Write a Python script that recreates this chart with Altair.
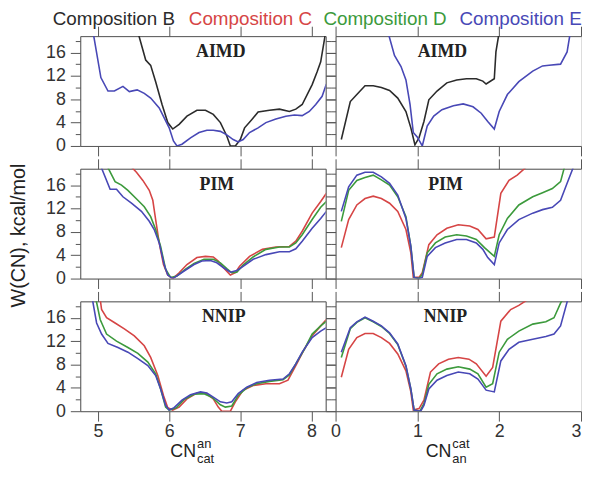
import altair as alt
import pandas as pd

NAMES = ["Composition B", "Composition C", "Composition D", "Composition E"]
COLORS = ["#2b2b2b", "#d64545", "#3c9a3c", "#4848b6"]

# ---------------- AIMD, left (CN_cat^an) ----------------
aimd_L_B_x = [5.56, 5.67, 5.74, 5.81, 5.90, 5.98, 6.05, 6.14, 6.25, 6.39, 6.51, 6.62, 6.72, 6.81, 6.86,
              6.93, 7.00, 7.06, 7.16, 7.25, 7.41, 7.55, 7.69, 7.78, 7.87, 8.01, 8.08, 8.13, 8.20]
aimd_L_B_y = [19.5, 14.7, 13.8, 11.0, 7.1, 4.0, 2.9, 3.7, 5.1, 6.1, 6.1, 5.4, 4.0, 1.7, 0.0,
              0.0, 1.1, 3.1, 4.5, 5.8, 6.1, 6.3, 5.9, 6.3, 7.1, 10.5, 12.7, 14.4, 19.5]
aimd_L_E_x = [4.93, 5.04, 5.14, 5.23, 5.35, 5.44, 5.55, 5.65, 5.74, 5.86, 5.93, 6.00, 6.06, 6.11, 6.18,
              6.30, 6.42, 6.53, 6.62, 6.72, 6.81, 6.90, 6.97, 7.04, 7.13, 7.25, 7.36, 7.50, 7.64, 7.76,
              7.87, 7.97, 8.06, 8.15, 8.21]
aimd_L_E_y = [19.5, 11.7, 9.4, 9.4, 10.2, 9.3, 9.6, 9.0, 8.2, 6.5, 4.8, 3.1, 0.85, 0.0, 0.3,
              1.4, 2.3, 2.7, 2.7, 2.5, 1.9, 1.1, 0.7, 1.1, 2.3, 3.1, 4.0, 4.6, 5.1, 5.3,
              5.2, 5.9, 7.1, 8.5, 10.6]

# ---------------- AIMD, right (CN_an^cat) ----------------
aimd_R_B_x = [0.07, 0.18, 0.26, 0.36, 0.46, 0.56, 0.66, 0.76, 0.86, 0.92, 0.97, 1.02, 1.08, 1.14, 1.24,
              1.36, 1.48, 1.60, 1.72, 1.80, 1.84, 1.94, 1.96, 2.00]
aimd_R_B_y = [1.1, 7.6, 8.8, 10.3, 10.3, 10.0, 9.5, 8.2, 5.9, 3.1, 0.2, 1.4, 4.2, 7.9, 9.4,
              10.8, 11.3, 11.5, 11.5, 11.1, 10.6, 11.5, 16.1, 19.5]
aimd_R_E_x = [0.64, 0.72, 0.80, 0.86, 0.91, 0.95, 1.00, 1.06, 1.12, 1.20, 1.30, 1.44, 1.56, 1.68, 1.78,
              1.86, 1.94, 2.00, 2.10, 2.24, 2.41, 2.53, 2.61, 2.75, 2.83, 2.87]
aimd_R_E_y = [19.5, 15.5, 13.6, 11.3, 7.1, 2.3, 1.5, 0.0, 3.4, 5.1, 6.2, 6.9, 7.2, 6.7, 5.6,
              4.2, 2.9, 5.9, 8.8, 11.0, 12.8, 13.7, 13.8, 14.0, 16.1, 19.5]

# ---------------- PIM, left ----------------
pim_L_C_x = [5.46, 5.54, 5.63, 5.72, 5.77, 5.81, 5.86, 5.92, 5.98, 6.05, 6.14, 6.25, 6.39, 6.51, 6.62,
             6.69, 6.76, 6.86, 6.93, 6.99, 7.13, 7.31, 7.50, 7.69, 7.78, 7.87, 8.01, 8.13, 8.21]
pim_L_C_y = [19.2, 18.2, 16.8, 15.1, 13.4, 10.1, 6.1, 2.4, 0.6, 0.0, 1.0, 2.4, 3.6, 3.8, 3.7,
             3.0, 1.9, 0.6, 1.0, 2.1, 3.8, 5.0, 5.4, 5.5, 6.4, 8.1, 11.2, 13.2, 14.6]
pim_L_D_x = [5.13, 5.24, 5.33, 5.42, 5.56, 5.65, 5.74, 5.81, 5.88, 5.95, 6.02, 6.11, 6.23, 6.35, 6.49,
             6.62, 6.72, 6.81, 6.88, 6.95, 7.04, 7.18, 7.36, 7.55, 7.69, 7.78, 7.87, 8.01, 8.13, 8.21]
pim_L_D_y = [19.2, 16.6, 16.0, 15.1, 13.4, 12.3, 10.6, 8.4, 5.5, 1.6, 0.2, 0.45, 1.6, 2.6, 3.3,
             3.3, 2.7, 1.7, 1.0, 1.1, 2.3, 3.7, 5.0, 5.4, 5.4, 6.1, 7.5, 10.1, 12.2, 13.2]
pim_L_E_x = [5.04, 5.17, 5.26, 5.35, 5.47, 5.61, 5.72, 5.79, 5.86, 5.93, 5.98, 6.05, 6.11, 6.21, 6.35,
             6.46, 6.58, 6.67, 6.76, 6.86, 6.95, 7.04, 7.18, 7.36, 7.55, 7.69, 7.78, 7.87, 8.01, 8.13,
             8.21]
pim_L_E_y = [19.2, 15.3, 15.3, 14.0, 12.9, 11.5, 9.8, 8.4, 6.1, 2.4, 0.6, 0.0, 0.45, 1.3, 2.4,
             3.0, 3.1, 2.7, 1.9, 1.1, 1.4, 2.1, 3.3, 4.1, 4.6, 4.6, 5.1, 6.4, 8.6, 10.3,
             11.5]

# ---------------- PIM, right ----------------
pim_R_C_x = [0.07, 0.16, 0.26, 0.36, 0.46, 0.56, 0.66, 0.76, 0.86, 0.92, 0.95, 1.02, 1.06, 1.14, 1.24,
             1.36, 1.50, 1.64, 1.74, 1.84, 1.94, 2.02, 2.12, 2.22, 2.34]
pim_R_C_y = [5.3, 10.1, 12.6, 13.7, 14.1, 13.7, 12.9, 11.5, 8.4, 4.4, 0.2, 0.2, 1.0, 5.8, 7.5,
             8.6, 9.2, 9.0, 8.4, 6.8, 7.1, 14.6, 16.8, 17.7, 19.2]
pim_R_D_x = [0.07, 0.16, 0.26, 0.36, 0.46, 0.56, 0.66, 0.76, 0.86, 0.92, 0.96, 1.02, 1.06, 1.12, 1.22,
             1.34, 1.48, 1.60, 1.72, 1.82, 1.94, 2.00, 2.10, 2.24, 2.41, 2.53, 2.65, 2.75, 2.80]
pim_R_D_y = [9.8, 15.1, 16.8, 17.3, 17.7, 16.9, 16.0, 14.0, 10.6, 5.5, 0.2, 0.0, 0.7, 4.4, 6.1,
             7.1, 7.5, 7.3, 6.7, 5.3, 3.8, 7.5, 10.3, 12.6, 14.0, 14.7, 15.4, 16.6, 19.2]
pim_R_E_x = [0.07, 0.16, 0.26, 0.36, 0.46, 0.56, 0.66, 0.76, 0.86, 0.92, 0.96, 1.02, 1.06, 1.12, 1.22,
             1.34, 1.48, 1.60, 1.72, 1.80, 1.86, 1.94, 2.00, 2.10, 2.24, 2.41, 2.53, 2.65, 2.75, 2.83,
             2.91]
pim_R_E_y = [11.5, 15.7, 17.7, 18.2, 18.2, 17.4, 16.3, 14.3, 10.3, 5.5, 0.2, 0.0, 0.2, 3.8, 5.3,
             6.1, 6.7, 6.7, 6.1, 5.0, 3.6, 2.4, 6.1, 8.4, 10.1, 11.2, 11.8, 12.2, 13.4, 16.3,
             19.2]

# ---------------- NNIP, left ----------------
nnip_L_C_x = [5.03, 5.05, 5.12, 5.24, 5.37, 5.51, 5.65, 5.74, 5.84, 5.92, 5.98, 6.05, 6.14, 6.25, 6.39,
              6.51, 6.62, 6.69, 6.74, 6.86, 6.93, 7.04, 7.18, 7.36, 7.55, 7.67, 7.78, 7.90, 8.01, 8.13,
              8.21]
nnip_L_C_y = [19.2, 17.4, 16.0, 15.1, 14.1, 12.9, 11.2, 9.2, 6.1, 2.7, 0.6, 0.2, 0.7, 2.1, 3.1,
              3.1, 2.1, 0.7, 0.0, 0.0, 1.6, 3.6, 4.4, 4.7, 4.7, 5.3, 7.8, 10.6, 12.9, 14.6,
              15.7]
nnip_L_D_x = [4.97, 5.03, 5.12, 5.26, 5.42, 5.56, 5.70, 5.81, 5.88, 5.95, 6.00, 6.10, 6.21, 6.35, 6.49,
              6.60, 6.72, 6.79, 6.88, 6.97, 7.09, 7.23, 7.41, 7.60, 7.69, 7.78, 7.90, 8.01, 8.13, 8.21]
nnip_L_D_y = [19.2, 15.7, 13.2, 12.0, 10.9, 9.9, 8.4, 6.4, 3.8, 0.7, 0.2, 0.6, 2.0, 2.9, 3.0,
              2.4, 1.1, 0.7, 0.9, 2.7, 4.0, 4.7, 5.1, 5.4, 6.2, 8.1, 10.6, 13.2, 14.6, 15.4]
nnip_L_E_x = [4.92, 4.98, 5.05, 5.14, 5.28, 5.42, 5.56, 5.70, 5.81, 5.88, 5.95, 6.00, 6.07, 6.18, 6.30,
              6.44, 6.53, 6.62, 6.72, 6.81, 6.88, 6.97, 7.09, 7.23, 7.41, 7.60, 7.69, 7.78, 7.87, 8.01,
              8.13, 8.21]
nnip_L_E_y = [19.2, 15.1, 13.2, 11.6, 10.9, 10.1, 9.0, 7.8, 6.1, 3.8, 1.0, 0.2, 0.6, 1.9, 2.8,
              3.3, 3.1, 2.4, 1.6, 1.4, 1.6, 3.0, 4.1, 4.9, 5.3, 5.5, 6.4, 8.1, 10.1, 12.6,
              13.7, 14.3]

# ---------------- NNIP, right ----------------
nnip_R_C_x = [0.07, 0.16, 0.26, 0.36, 0.46, 0.56, 0.66, 0.76, 0.86, 0.92, 0.95, 1.02, 1.08, 1.16, 1.26,
              1.38, 1.50, 1.63, 1.72, 1.84, 1.92, 2.02, 2.14, 2.24, 2.36]
nnip_R_C_y = [5.8, 10.6, 12.6, 13.3, 13.3, 12.6, 11.6, 9.8, 6.9, 3.3, 0.2, 0.45, 1.9, 6.7, 8.1,
              8.9, 9.2, 8.9, 8.1, 6.0, 7.5, 15.4, 17.4, 18.1, 19.2]
nnip_R_D_x = [0.07, 0.18, 0.26, 0.36, 0.46, 0.56, 0.66, 0.76, 0.86, 0.92, 0.96, 1.03, 1.08, 1.14, 1.24,
              1.36, 1.50, 1.64, 1.74, 1.84, 1.92, 2.00, 2.10, 2.24, 2.41, 2.57, 2.67, 2.75, 2.78]
nnip_R_D_y = [9.2, 14.1, 15.2, 16.0, 15.3, 14.5, 13.3, 11.4, 7.7, 3.8, 0.2, 0.0, 1.3, 4.6, 6.4,
              7.2, 7.6, 7.2, 6.4, 4.1, 4.7, 10.1, 12.3, 13.7, 14.9, 15.3, 16.0, 18.5, 19.2]
nnip_R_E_x = [0.07, 0.18, 0.26, 0.36, 0.46, 0.56, 0.66, 0.76, 0.86, 0.92, 0.96, 1.04, 1.08, 1.14, 1.24,
              1.36, 1.50, 1.64, 1.74, 1.84, 1.94, 2.02, 2.12, 2.24, 2.41, 2.57, 2.67, 2.75, 2.84]
nnip_R_E_y = [10.1, 14.3, 15.3, 16.1, 15.4, 14.6, 13.4, 11.5, 7.8, 3.8, 0.2, 0.0, 1.0, 3.8, 5.3,
              6.1, 6.7, 6.4, 5.5, 3.6, 3.3, 8.6, 10.6, 11.8, 12.3, 12.8, 13.2, 14.6, 19.2]

X_LEFT_DOMAIN = [4.75, 8.2]
X_RIGHT_DOMAIN = [0, 3]
Y_DOMAIN = [0, 18.8]
X_LEFT_TICKS = [5, 5.5, 6, 6.5, 7, 7.5, 8]
X_RIGHT_TICKS = [0, 0.5, 1, 1.5, 2, 2.5, 3]
Y_TICKS = [0, 2, 4, 6, 8, 10, 12, 14, 16, 18]

FONT = "Liberation Sans"
AXIS_COLOR = "#555555"
PW, PH = 248, 111


def frame(series):
    recs = []
    for name, xs, ys in series:
        for i, (x, y) in enumerate(zip(xs, ys)):
            recs.append({"comp": name, "x": x, "y": y, "i": i})
    return pd.DataFrame(recs)


color = alt.Color("comp:N", scale=alt.Scale(domain=NAMES, range=COLORS), legend=None)


def xaxis(orient, ticks, labels, right_side):
    major = "datum.value % 1 === 0"
    kw = dict(orient=orient, values=ticks, labels=labels, title=None, grid=False, format="d",
              labelExpr=f"{major} ? datum.label : ''",
              tickSize={"condition": {"test": major, "value": 10}, "value": 5},
              labelFontSize=18, labelFont=FONT, labelColor="#333333", labelPadding=2,
              domainColor=AXIS_COLOR, tickColor=AXIS_COLOR)
    if right_side and labels:
        kw["labelAlign"] = {"condition": {"test": "datum.value === 3", "value": "right"}, "value": "center"}
    return alt.Axis(**kw)


def yaxis(orient, labels, title=None):
    major = "datum.value % 4 === 0"
    kw = dict(orient=orient, values=Y_TICKS, labels=labels, grid=False, format="d",
              labelExpr=f"{major} ? datum.label : ''",
              tickSize={"condition": {"test": major, "value": 10}, "value": 5},
              labelFontSize=18, labelFont=FONT, labelColor="#333333", labelPadding=5,
              domainColor=AXIS_COLOR, tickColor=AXIS_COLOR)
    if title:
        kw.update(title=title, titleFontSize=20, titleFont=FONT, titleFontWeight="normal",
                  titleColor="#222222", titlePadding=17, titleY=67)
    else:
        kw["title"] = None
    return alt.Axis(**kw)


def panel(series, right_side, label, label_x, bottom, ytitle=None, xtitle=None):
    df = frame(series)
    xdom = X_RIGHT_DOMAIN if right_side else X_LEFT_DOMAIN
    ticks = X_RIGHT_TICKS if right_side else X_LEFT_TICKS
    xs = alt.Scale(domain=xdom, nice=False, zero=False)
    ys = alt.Scale(domain=Y_DOMAIN, nice=False, zero=False)
    main = alt.Chart(df).mark_line(strokeWidth=1.6, clip=True).encode(
        x=alt.X("x:Q", scale=xs, axis=xaxis("bottom", ticks, bottom, right_side)),
        y=alt.Y("y:Q", scale=ys, axis=yaxis("left", not right_side, ytitle)),
        color=color,
        order="i:Q",
    )
    ghost = alt.Chart(df).mark_line(strokeOpacity=0, clip=True).encode(
        x=alt.X("x:Q", scale=xs, axis=xaxis("top", ticks, False, right_side)),
        y=alt.Y("y:Q", scale=ys, axis=None if right_side else yaxis("right", False)),
        detail="comp:N",
        order="i:Q",
    )
    lab = alt.Chart(pd.DataFrame({"t": [label]})).mark_text(
        font="Liberation Serif", fontWeight="bold", fontSize=18, color="#222222", baseline="middle"
    ).encode(x=alt.value(label_x), y=alt.value(16), text="t:N")
    layers = [main, ghost, lab]
    if xtitle:
        big, sup, sub = xtitle
        t_df = pd.DataFrame({"big": [big], "sup": [sup], "sub": [sub]})
        layers.append(alt.Chart(t_df).mark_text(font=FONT, fontSize=18, color="#222222",
                                                align="right", baseline="middle")
                      .encode(x=alt.value(117), y=alt.value(152), text="big:N"))
        layers.append(alt.Chart(t_df).mark_text(font=FONT, fontSize=13, color="#222222",
                                                align="left", baseline="middle")
                      .encode(x=alt.value(118), y=alt.value(144), text="sup:N"))
        layers.append(alt.Chart(t_df).mark_text(font=FONT, fontSize=13, color="#222222",
                                                align="left", baseline="middle")
                      .encode(x=alt.value(118), y=alt.value(159), text="sub:N"))
    return alt.layer(*layers).resolve_axis(x="independent", y="independent").properties(width=PW, height=PH)


def legend_cell(names, rng):
    return alt.Chart(pd.DataFrame({"comp": names})).mark_text(
        font=FONT, fontSize=19, baseline="middle"
    ).encode(
        x=alt.X("comp:N", scale=alt.Scale(type="point", domain=names, range=rng, padding=0), axis=None),
        y=alt.value(7),
        color=color,
        text="comp:N",
    ).properties(width=PW, height=1, view=alt.ViewBackground(stroke=None))


B, C, D, E = NAMES

aimd_L = panel([(B, aimd_L_B_x, aimd_L_B_y), (E, aimd_L_E_x, aimd_L_E_y)], False, "AIMD", 142, False)
aimd_R = panel([(B, aimd_R_B_x, aimd_R_B_y), (E, aimd_R_E_x, aimd_R_E_y)], True, "AIMD", 108, False)
pim_L = panel([(C, pim_L_C_x, pim_L_C_y), (D, pim_L_D_x, pim_L_D_y), (E, pim_L_E_x, pim_L_E_y)],
              False, "PIM", 138, False, ytitle="W(CN), kcal/mol")
pim_R = panel([(C, pim_R_C_x, pim_R_C_y), (D, pim_R_D_x, pim_R_D_y), (E, pim_R_E_x, pim_R_E_y)],
              True, "PIM", 111, False)
nnip_L = panel([(C, nnip_L_C_x, nnip_L_C_y), (D, nnip_L_D_x, nnip_L_D_y), (E, nnip_L_E_x, nnip_L_E_y)],
               False, "NNIP", 145, True, xtitle=("CN", "an", "cat"))
nnip_R = panel([(C, nnip_R_C_x, nnip_R_C_y), (D, nnip_R_D_x, nnip_R_D_y), (E, nnip_R_E_x, nnip_R_E_y)],
               True, "NNIP", 111, True, xtitle=("CN", "cat", "an"))

leg_L = legend_cell([B, C], [34, 172])
leg_R = legend_cell([D, E], [50, 187])

chart = alt.concat(
    leg_L, leg_R, aimd_L, aimd_R, pim_L, pim_R, nnip_L, nnip_R,
    columns=2, spacing={"row": 23, "column": 10}, bounds="flush",
).properties(padding=0).configure_view(stroke=AXIS_COLOR, strokeWidth=1).configure(background="white")

chart.save("out.html", embed_options={"renderer": "svg", "actions": False})
